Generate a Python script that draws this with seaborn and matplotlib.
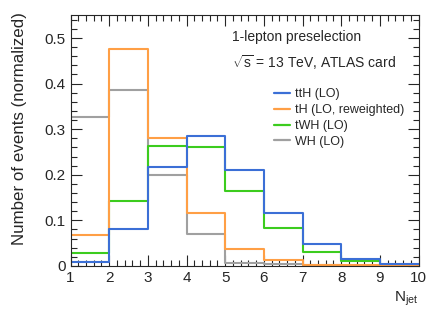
import numpy as np
import pandas as pd
import matplotlib
matplotlib.use("Agg")
import matplotlib.pyplot as plt
import seaborn as sns
from matplotlib.ticker import MultipleLocator

# bin edges and per-bin normalized yields
bin_edges = list(range(1, 11))
bin_centres = [1.5, 2.5, 3.5, 4.5, 5.5, 6.5, 7.5, 8.5, 9.5]

tth = [0.009, 0.081, 0.218, 0.284, 0.210, 0.116, 0.049, 0.014, 0.004]
th = [0.067, 0.477, 0.280, 0.116, 0.038, 0.013, 0.002, 0.001, 0.0005]
twh = [0.029, 0.143, 0.264, 0.260, 0.165, 0.083, 0.031, 0.010, 0.002]
wh = [0.327, 0.385, 0.199, 0.070, 0.007, 0.004, 0.001, 0.0003, 0.0001]

labels = ["ttH (LO)", "tH (LO, reweighted)", "tWH (LO)", "WH (LO)"]
colors = ["#3b6fd6", "#ff9f45", "#3ccc1e", "#a0a0a0"]

frames = []
for lab, vals in zip(labels, [tth, th, twh, wh]):
    frames.append(pd.DataFrame({"njet": bin_centres, "w": vals, "sample": lab}))
df = pd.concat(frames, ignore_index=True)

sns.set_style("ticks")
plt.rcParams["font.family"] = ["Liberation Sans", "DejaVu Sans"]
plt.rcParams["mathtext.fontset"] = "custom"
plt.rcParams["mathtext.rm"] = "Liberation Sans"
plt.rcParams["mathtext.it"] = "Liberation Sans"

fig = plt.figure(figsize=(4.41, 3.18), dpi=100)
ax = fig.add_axes([0.160, 0.164, 0.789, 0.788])

# draw in reverse so ttH sits on top like the original
for lab, col in reversed(list(zip(labels, colors))):
    sub = df[df["sample"] == lab]
    sns.histplot(data=sub, x="njet", weights="w", bins=bin_edges,
                 element="step", fill=False, color=col, linewidth=1.5,
                 ax=ax, label=lab)

ax.set_xlim(1, 10)
ax.set_ylim(0, 0.55)
ax.xaxis.set_major_locator(MultipleLocator(1))
ax.xaxis.set_minor_locator(MultipleLocator(0.2))
ax.yaxis.set_major_locator(MultipleLocator(0.1))
ax.yaxis.set_minor_locator(MultipleLocator(0.02))
ax.set_yticks([0, 0.1, 0.2, 0.3, 0.4, 0.5])
ax.set_yticklabels(["0", "0.1", "0.2", "0.3", "0.4", "0.5"])
ax.tick_params(which="both", direction="in", top=True, right=True, labelsize=11, width=0.8)
ax.tick_params(which="major", length=8)
ax.tick_params(which="minor", length=4)
for sp in ax.spines.values():
    sp.set_linewidth(0.8)

ax.set_xlabel("")
ax.set_ylabel("Number of events (normalized)", fontsize=12.2, loc="top")
ax.yaxis.set_label_coords(-0.124, 1.013)
fig.text(0.948, 0.03, "N$_{\\rm jet}$", ha="right", va="bottom", fontsize=11)

ax.text(0.463, 0.913, "1-lepton preselection", transform=ax.transAxes,
        fontsize=10, va="center")
ax.text(0.463, 0.81, "$\\sqrt{s}$ = 13 TeV, ATLAS card", transform=ax.transAxes,
        fontsize=10, va="center")

handles = [plt.Line2D([], [], color=c, lw=1.6) for c in colors]
ax.legend(handles, labels, loc="upper left", bbox_to_anchor=(0.585, 0.708),
          frameon=False, fontsize=9, handlelength=1.3, handletextpad=0.4,
          labelspacing=0.3, borderaxespad=0, borderpad=0)

fig.savefig("out.png", dpi=100)
